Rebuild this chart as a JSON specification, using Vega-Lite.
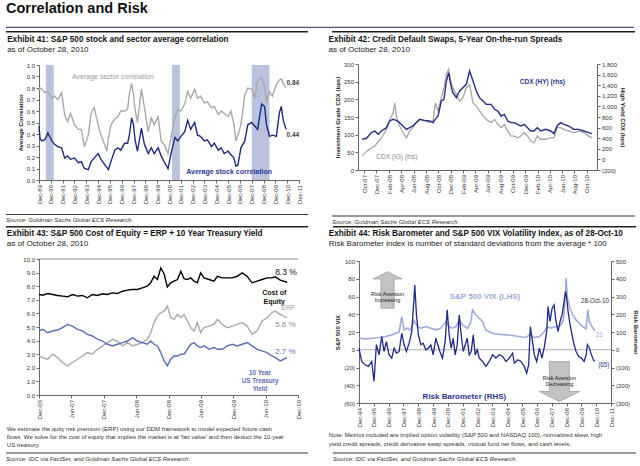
{
"$schema": "https://vega.github.io/schema/vega-lite/v6.json",
"padding": {"left": 5, "top": 0, "right": 2, "bottom": 0},
"background": "white",
"title": {"text": "Correlation and Risk", "fontSize": 14.5, "fontWeight": "bold", "color": "#111", "anchor": "start", "offset": 1},
"datasets": {
"rec": [{"s":"1990-07-01","e":"1991-03-01"},{"s":"2001-03-01","e":"2001-11-01"},{"s":"2007-12-01","e":"2009-06-01"}],
"p1": [
{"d":"1989-12-01","sec":0.78,"stk":0.47},{"d":"1990-01-01","sec":0.80,"stk":0.36},{"d":"1990-03-01","sec":0.79,"stk":0.34},{"d":"1990-06-01","sec":0.76,"stk":0.35},{"d":"1990-09-01","sec":0.77,"stk":0.41},{"d":"1991-01-01","sec":0.71,"stk":0.34},{"d":"1991-04-01","sec":0.73,"stk":0.31},{"d":"1991-07-01","sec":0.70,"stk":0.29},{"d":"1991-11-01","sec":0.76,"stk":0.28},
{"d":"1992-02-01","sec":0.57,"stk":0.19},{"d":"1992-05-01","sec":0.51,"stk":0.21},{"d":"1992-08-01","sec":0.58,"stk":0.18},{"d":"1992-12-01","sec":0.48,"stk":0.19},{"d":"1993-04-01","sec":0.44,"stk":0.15},{"d":"1993-07-01","sec":0.44,"stk":0.16},{"d":"1993-10-01","sec":0.29,"stk":0.10},{"d":"1994-02-01","sec":0.39,"stk":0.09},{"d":"1994-05-01","sec":0.58,"stk":0.16},{"d":"1994-08-01","sec":0.63,"stk":0.19},{"d":"1994-12-01","sec":0.48,"stk":0.23},
{"d":"1995-03-01","sec":0.39,"stk":0.18},{"d":"1995-07-01","sec":0.30,"stk":0.13},{"d":"1995-09-01","sec":0.25,"stk":0.11},{"d":"1995-10-15","sec":0.36,"stk":0.09},{"d":"1996-01-01","sec":0.48,"stk":0.16},{"d":"1996-05-01","sec":0.53,"stk":0.26},{"d":"1996-08-01","sec":0.55,"stk":0.28},{"d":"1996-11-01","sec":0.60,"stk":0.26},{"d":"1997-03-01","sec":0.60,"stk":0.32},{"d":"1997-06-01","sec":0.62,"stk":0.32},{"d":"1997-08-01","sec":0.76,"stk":0.40},{"d":"1997-10-01","sec":0.84,"stk":0.54},{"d":"1997-12-01","sec":0.74,"stk":0.48},
{"d":"1998-01-15","sec":0.62,"stk":0.35},{"d":"1998-04-01","sec":0.50,"stk":0.25},{"d":"1998-08-01","sec":0.79,"stk":0.45},{"d":"1998-11-01","sec":0.63,"stk":0.31},{"d":"1999-03-01","sec":0.42,"stk":0.23},{"d":"1999-06-01","sec":0.54,"stk":0.28},{"d":"1999-09-01","sec":0.48,"stk":0.23},{"d":"2000-01-01","sec":0.55,"stk":0.28},{"d":"2000-04-01","sec":0.34,"stk":0.21},{"d":"2000-07-01","sec":0.31,"stk":0.16},{"d":"2000-11-01","sec":0.23,"stk":0.10},
{"d":"2001-02-01","sec":0.37,"stk":0.23},{"d":"2001-06-01","sec":0.55,"stk":0.37},{"d":"2001-09-01","sec":0.61,"stk":0.34},{"d":"2001-12-01","sec":0.60,"stk":0.38},{"d":"2002-04-01","sec":0.66,"stk":0.42},{"d":"2002-07-01","sec":0.77,"stk":0.52},{"d":"2002-10-01","sec":0.71,"stk":0.44},{"d":"2003-02-01","sec":0.79,"stk":0.50},{"d":"2003-05-01","sec":0.71,"stk":0.39},{"d":"2003-08-01","sec":0.73,"stk":0.38},{"d":"2003-12-01","sec":0.67,"stk":0.34},
{"d":"2004-03-01","sec":0.68,"stk":0.35},{"d":"2004-07-01","sec":0.63,"stk":0.29},{"d":"2004-10-01","sec":0.64,"stk":0.32},{"d":"2005-02-01","sec":0.57,"stk":0.26},{"d":"2005-05-01","sec":0.60,"stk":0.28},{"d":"2005-08-01","sec":0.58,"stk":0.23},{"d":"2005-12-01","sec":0.55,"stk":0.25},{"d":"2006-03-01","sec":0.60,"stk":0.22},{"d":"2006-06-01","sec":0.48,"stk":0.19},{"d":"2006-08-01","sec":0.34,"stk":0.12},{"d":"2006-10-01","sec":0.39,"stk":0.13},
{"d":"2007-01-01","sec":0.48,"stk":0.28},{"d":"2007-05-01","sec":0.74,"stk":0.34},{"d":"2007-08-01","sec":0.80,"stk":0.48},{"d":"2007-12-01","sec":0.79,"stk":0.50},{"d":"2008-03-01","sec":0.71,"stk":0.47},{"d":"2008-06-01","sec":0.86,"stk":0.44},{"d":"2008-10-01","sec":0.89,"stk":0.66},{"d":"2009-01-01","sec":0.81,"stk":0.64},{"d":"2009-03-01","sec":0.68,"stk":0.48},{"d":"2009-06-01","sec":0.77,"stk":0.38},{"d":"2009-09-01","sec":0.73,"stk":0.39},
{"d":"2010-01-01","sec":0.83,"stk":0.38},{"d":"2010-04-01","sec":0.87,"stk":0.58},{"d":"2010-06-01","sec":0.88,"stk":0.64},{"d":"2010-08-01","sec":0.84,"stk":0.52},{"d":"2010-10-28","sec":0.80,"stk":0.44}
],
"p2": [
{"d":"2007-09-21","ig":40,"hy":379},{"d":"2007-10-13","ig":52,"hy":398},{"d":"2007-11-06","ig":63,"hy":505},{"d":"2007-11-23","ig":68,"hy":536},{"d":"2007-12-09","ig":80,"hy":473},{"d":"2007-12-25","ig":90,"hy":536},{"d":"2008-01-19","ig":115,"hy":599},{"d":"2008-02-04","ig":143,"hy":725},{"d":"2008-02-20","ig":160,"hy":756},{"d":"2008-02-29","ig":190,"hy":745},{"d":"2008-03-08","ig":150,"hy":737},{"d":"2008-03-24","ig":124,"hy":693},
{"d":"2008-04-09","ig":106,"hy":630},{"d":"2008-04-26","ig":91,"hy":567},{"d":"2008-05-12","ig":110,"hy":599},{"d":"2008-05-28","ig":120,"hy":630},{"d":"2008-06-13","ig":134,"hy":693},{"d":"2008-06-30","ig":143,"hy":756},{"d":"2008-07-25","ig":139,"hy":737},{"d":"2008-08-19","ig":134,"hy":725},{"d":"2008-09-04","ig":139,"hy":693},{"d":"2008-09-16","ig":190,"hy":760},{"d":"2008-09-29","ig":167,"hy":819},
{"d":"2008-10-15","ig":205,"hy":1102},{"d":"2008-10-28","ig":233,"hy":1133},{"d":"2008-11-09","ig":271,"hy":1479},{"d":"2008-11-20","ig":285,"hy":1637},{"d":"2008-11-30","ig":252,"hy":1416},{"d":"2008-12-11","ig":233,"hy":1259},{"d":"2008-12-28","ig":214,"hy":1165},{"d":"2009-01-13","ig":195,"hy":1291},{"d":"2009-01-29","ig":205,"hy":1354},{"d":"2009-02-15","ig":233,"hy":1416},{"d":"2009-03-03","ig":242,"hy":1668},
{"d":"2009-03-20","ig":190,"hy":1479},{"d":"2009-04-05","ig":181,"hy":1291},{"d":"2009-04-21","ig":167,"hy":1165},{"d":"2009-05-08","ig":153,"hy":1102},{"d":"2009-05-24","ig":143,"hy":1039},{"d":"2009-06-17","ig":134,"hy":1039},{"d":"2009-07-04","ig":143,"hy":945},{"d":"2009-07-20","ig":129,"hy":913},{"d":"2009-08-05","ig":120,"hy":819},{"d":"2009-08-21","ig":129,"hy":850},{"d":"2009-09-07","ig":110,"hy":725},
{"d":"2009-09-23","ig":96,"hy":693},{"d":"2009-10-09","ig":96,"hy":693},{"d":"2009-10-25","ig":91,"hy":662},{"d":"2009-11-10","ig":96,"hy":630},{"d":"2009-11-27","ig":106,"hy":662},{"d":"2009-12-13","ig":96,"hy":599},{"d":"2009-12-29","ig":82,"hy":536},{"d":"2010-01-14","ig":77,"hy":536},{"d":"2010-01-30","ig":96,"hy":599},{"d":"2010-02-16","ig":87,"hy":536},{"d":"2010-03-12","ig":87,"hy":567},
{"d":"2010-04-06","ig":91,"hy":536},{"d":"2010-04-22","ig":91,"hy":486},{"d":"2010-05-08","ig":120,"hy":630},{"d":"2010-05-24","ig":120,"hy":693},{"d":"2010-06-10","ig":115,"hy":662},{"d":"2010-07-04","ig":110,"hy":630},{"d":"2010-07-29","ig":106,"hy":567},{"d":"2010-08-22","ig":110,"hy":567},{"d":"2010-09-16","ig":106,"hy":536},{"d":"2010-10-10","ig":96,"hy":505},{"d":"2010-10-26","ig":91,"hy":486}
],
"p3": [
{"d":"2006-12-01","coe":7.39,"erp":2.87,"ty":4.71},{"d":"2006-12-22","coe":7.34,"erp":2.75,"ty":4.83},{"d":"2007-01-19","coe":7.46,"erp":2.63,"ty":4.58},{"d":"2007-02-16","coe":7.39,"erp":3.00,"ty":4.71},{"d":"2007-03-16","coe":7.32,"erp":2.75,"ty":4.78},{"d":"2007-04-13","coe":7.27,"erp":2.39,"ty":4.95},{"d":"2007-05-11","coe":7.22,"erp":2.14,"ty":5.19},{"d":"2007-06-08","coe":7.39,"erp":2.39,"ty":5.07},{"d":"2007-07-06","coe":7.27,"erp":2.63,"ty":4.83},{"d":"2007-08-03","coe":7.32,"erp":2.87,"ty":4.71},
{"d":"2007-08-31","coe":7.15,"erp":3.12,"ty":4.46},{"d":"2007-09-28","coe":7.39,"erp":3.00,"ty":4.34},{"d":"2007-10-27","coe":7.32,"erp":3.36,"ty":4.10},{"d":"2007-11-24","coe":7.44,"erp":3.61,"ty":3.97},{"d":"2007-12-22","coe":7.39,"erp":3.85,"ty":3.73},{"d":"2008-01-19","coe":7.51,"erp":4.10,"ty":3.61},{"d":"2008-02-16","coe":7.46,"erp":3.97,"ty":3.73},{"d":"2008-03-16","coe":7.63,"erp":3.61,"ty":3.85},{"d":"2008-04-13","coe":7.71,"erp":3.85,"ty":3.97},{"d":"2008-05-11","coe":7.76,"erp":3.61,"ty":4.22},
{"d":"2008-06-08","coe":7.76,"erp":3.73,"ty":3.97},{"d":"2008-07-06","coe":7.88,"erp":3.85,"ty":3.85},{"d":"2008-08-03","coe":8.00,"erp":4.10,"ty":3.73},{"d":"2008-08-22","coe":8.25,"erp":4.58,"ty":3.97},{"d":"2008-09-10","coe":8.73,"erp":5.32,"ty":3.73},{"d":"2008-09-29","coe":8.49,"erp":5.80,"ty":3.61},{"d":"2008-10-18","coe":9.34,"erp":6.05,"ty":3.12},{"d":"2008-11-06","coe":8.90,"erp":6.17,"ty":2.51},{"d":"2008-11-24","coe":7.95,"erp":6.54,"ty":2.14},{"d":"2008-12-13","coe":8.25,"erp":5.68,"ty":2.63},
{"d":"2009-01-01","coe":8.37,"erp":5.56,"ty":2.87},{"d":"2009-01-20","coe":8.49,"erp":5.93,"ty":2.87},{"d":"2009-02-08","coe":9.10,"erp":5.68,"ty":3.00},{"d":"2009-02-26","coe":8.55,"erp":5.93,"ty":3.00},{"d":"2009-03-17","coe":8.49,"erp":5.44,"ty":3.36},{"d":"2009-04-05","coe":8.61,"erp":4.95,"ty":3.73},{"d":"2009-04-24","coe":8.37,"erp":4.71,"ty":3.85},{"d":"2009-05-12","coe":8.25,"erp":5.32,"ty":3.61},{"d":"2009-05-31","coe":8.98,"erp":4.58,"ty":3.49},{"d":"2009-06-19","coe":8.61,"erp":4.95,"ty":3.61},
{"d":"2009-07-17","coe":8.49,"erp":5.07,"ty":3.36},{"d":"2009-08-14","coe":8.37,"erp":5.19,"ty":3.49},{"d":"2009-09-02","coe":8.73,"erp":5.56,"ty":3.36},{"d":"2009-09-30","coe":8.61,"erp":5.19,"ty":3.36},{"d":"2009-10-28","coe":8.61,"erp":4.95,"ty":3.61},{"d":"2009-11-25","coe":8.61,"erp":5.07,"ty":3.73},{"d":"2009-12-23","coe":8.73,"erp":5.19,"ty":3.61},{"d":"2010-01-20","coe":8.98,"erp":5.32,"ty":3.73},{"d":"2010-02-17","coe":8.73,"erp":5.07,"ty":3.85},{"d":"2010-03-17","coe":8.25,"erp":4.46,"ty":3.61},
{"d":"2010-04-14","coe":8.37,"erp":4.71,"ty":3.36},{"d":"2010-05-12","coe":8.49,"erp":5.44,"ty":3.24},{"d":"2010-06-09","coe":8.61,"erp":5.68,"ty":3.12},{"d":"2010-07-07","coe":8.61,"erp":6.05,"ty":2.87},{"d":"2010-07-26","coe":8.69,"erp":6.17,"ty":2.75},{"d":"2010-08-23","coe":8.44,"erp":5.93,"ty":2.51},{"d":"2010-09-30","coe":8.29,"erp":5.68,"ty":2.75}
],
"vix": [
{"d":"1994-12-01","v":13},{"d":"1995-05-15","v":12.3},{"d":"1995-10-26","v":13},{"d":"1996-04-08","v":13.8},{"d":"1996-09-19","v":14.9},{"d":"1997-03-03","v":16.8},{"d":"1997-05-24","v":18.6},{"d":"1997-08-15","v":19.8},{"d":"1997-10-19","v":37.4},{"d":"1997-12-16","v":22.4},{"d":"1998-03-08","v":24.3},{"d":"1998-05-30","v":22},{"d":"1998-08-20","v":33},{"d":"1998-11-10","v":26},
{"d":"1999-02-01","v":24.3},{"d":"1999-06-04","v":26.1},{"d":"1999-10-05","v":24.3},{"d":"2000-02-06","v":22.4},{"d":"2000-06-08","v":24.3},{"d":"2000-10-10","v":31.7},{"d":"2000-12-31","v":26.1},{"d":"2001-03-23","v":24.3},{"d":"2001-06-14","v":26},{"d":"2001-09-04","v":33.6},{"d":"2001-11-26","v":28},{"d":"2002-03-29","v":24},{"d":"2002-06-19","v":31.7},{"d":"2002-07-30","v":44.9},{"d":"2002-10-20","v":39.2},
{"d":"2003-01-11","v":35.5},{"d":"2003-04-03","v":31.7},{"d":"2003-06-24","v":22},{"d":"2003-12-06","v":18.6},{"d":"2004-05-18","v":17.5},{"d":"2004-10-30","v":16.8},{"d":"2005-04-12","v":16},{"d":"2005-09-23","v":14.9},{"d":"2006-03-08","v":13.8},{"d":"2006-05-29","v":16.8},{"d":"2006-09-29","v":13.8},{"d":"2007-01-31","v":14.9},{"d":"2007-06-03","v":20.5},{"d":"2007-08-25","v":26},{"d":"2007-11-15","v":24.3},
{"d":"2008-02-05","v":26},{"d":"2008-04-28","v":26},{"d":"2008-07-19","v":28},{"d":"2008-09-14","v":33.6},{"d":"2008-11-03","v":60},{"d":"2008-11-19","v":81},{"d":"2008-12-22","v":58},{"d":"2009-02-26","v":46.7},{"d":"2009-05-03","v":39.2},{"d":"2009-07-23","v":33.6},{"d":"2009-10-13","v":29.9},{"d":"2010-01-04","v":26.1},{"d":"2010-03-27","v":23.5},{"d":"2010-05-07","v":44.9},{"d":"2010-06-17","v":31.7},{"d":"2010-08-22","v":26.1},{"d":"2010-10-28","v":21}
],
"rb": [
{"d":"1994-12-01","r":9},{"d":"1995-02-05","r":-66},{"d":"1995-04-28","r":-85},{"d":"1995-07-19","r":-94},{"d":"1995-10-10","r":-66},{"d":"1995-12-06","r":-179},{"d":"1996-02-02","r":28},{"d":"1996-04-08","r":-29},{"d":"1996-06-13","r":74},{"d":"1996-08-09","r":-10},{"d":"1996-10-06","r":46},{"d":"1996-12-11","r":-29},{"d":"1997-02-15","r":-47},{"d":"1997-04-13","r":9},{"d":"1997-06-10","r":-19},{"d":"1997-08-15","r":-10},{"d":"1997-10-19","r":93},{"d":"1997-12-16","r":28},
{"d":"1998-02-12","r":-10},{"d":"1998-04-19","r":37},{"d":"1998-06-23","r":103},{"d":"1998-08-12","r":271},{"d":"1998-09-05","r":365},{"d":"1998-10-17","r":196},{"d":"1998-12-05","r":83},{"d":"1999-02-01","r":28},{"d":"1999-03-30","r":37},{"d":"1999-06-04","r":0},{"d":"1999-08-09","r":9},{"d":"1999-10-05","r":28},{"d":"1999-12-02","r":-29},{"d":"2000-02-06","r":65},{"d":"2000-03-26","r":28},{"d":"2000-05-15","r":-10},{"d":"2000-07-20","r":-47},{"d":"2000-09-23","r":46},{"d":"2000-11-12","r":225},{"d":"2000-12-31","r":84},
{"d":"2001-02-18","r":9},{"d":"2001-04-09","r":65},{"d":"2001-05-28","r":-29},{"d":"2001-07-17","r":28},{"d":"2001-09-04","r":196},{"d":"2001-10-23","r":84},{"d":"2001-12-12","r":-10},{"d":"2002-01-30","r":28},{"d":"2002-03-21","r":65},{"d":"2002-05-09","r":-29},{"d":"2002-06-27","r":-10},{"d":"2002-08-16","r":84},{"d":"2002-10-04","r":-29},{"d":"2002-11-22","r":0},{"d":"2003-01-11","r":-47},{"d":"2003-04-03","r":-66},{"d":"2003-06-24","r":-94},
{"d":"2003-09-14","r":-66},{"d":"2003-12-06","r":-29},{"d":"2004-02-26","r":-47},{"d":"2004-05-18","r":-29},{"d":"2004-08-09","r":-38},{"d":"2004-10-30","r":-66},{"d":"2005-01-20","r":-47},{"d":"2005-04-12","r":-19},{"d":"2005-05-24","r":-76},{"d":"2005-08-14","r":-57},{"d":"2005-11-04","r":-66},{"d":"2006-01-25","r":-94},{"d":"2006-03-24","r":-132},{"d":"2006-05-12","r":-85},{"d":"2006-06-23","r":131},{"d":"2006-08-03","r":65},{"d":"2006-09-29","r":-29},{"d":"2006-11-26","r":-66},
{"d":"2007-01-31","r":9},{"d":"2007-04-07","r":-47},{"d":"2007-06-03","r":18},{"d":"2007-07-31","r":103},{"d":"2007-09-02","r":243},{"d":"2007-10-21","r":159},{"d":"2007-12-10","r":233},{"d":"2008-01-28","r":252},{"d":"2008-03-17","r":159},{"d":"2008-05-06","r":103},{"d":"2008-06-24","r":159},{"d":"2008-08-12","r":196},{"d":"2008-10-01","r":271},{"d":"2008-11-03","r":327},{"d":"2008-12-06","r":290},
{"d":"2009-01-08","r":215},{"d":"2009-02-26","r":140},{"d":"2009-04-16","r":84},{"d":"2009-06-04","r":28},{"d":"2009-07-23","r":-10},{"d":"2009-09-27","r":-38},{"d":"2009-12-02","r":-47},{"d":"2010-02-06","r":-66},{"d":"2010-03-27","r":-29},{"d":"2010-04-29","r":28},{"d":"2010-06-17","r":9},{"d":"2010-08-06","r":-29},{"d":"2010-09-24","r":-57},{"d":"2010-10-28","r":-65}
]
},
"columns": 1,
"spacing": 1,
"concat": [
{"width": 595, "height": 13, "data": {"values": [{}]}, "mark": {"type": "rect", "color": "#4d5679"},
 "encoding": {"x": {"datum": -0.0555, "type": "quantitative", "scale": {"domain": [0, 1]}, "axis": null}, "x2": {"datum": 1}, "y": {"datum": 3.2, "type": "quantitative", "scale": {"domain": [0, 13]}, "axis": null}, "y2": {"datum": 2}}},
{"columns": 2, "spacing": 20, "concat": [
{"columns": 1, "spacing": 2, "concat": [
 {"width": 269, "height": 1.4, "data": {"values": [{}]}, "mark": {"type": "rect", "color": "#222"},
  "encoding": {"x": {"datum": -0.1227, "type": "quantitative", "scale": {"domain": [0, 1]}, "axis": null}, "x2": {"datum": 1}, "y": {"datum": 0, "type": "quantitative", "scale": {"domain": [0, 1]}, "axis": null}, "y2": {"datum": 1}}},
 {
 "width": 260, "height": 115,
 "title": {"text": "Exhibit 41: S&P 500 stock and sector average correlation", "subtitle": "as of October 28, 2010", "offset": 7, "dx": -10},
 "layer": [
 {"data": {"name": "rec"}, "mark": {"type": "rect", "color": "#b9c3e0"},
  "encoding": {"x": {"field": "s", "type": "temporal", "title": null,
    "scale": {"type": "utc", "domain": [{"year":1989,"month":12,"date":1,"utc":true},{"year":2011,"month":12,"date":1,"utc":true}]},
    "axis": {"format": "%b-%y", "labelAngle": -90, "title": null, "tickCount": 100, "labelFlush": false, "values": [
     {"year":1989,"month":12,"date":1,"utc":true},{"year":1990,"month":12,"date":1,"utc":true},{"year":1991,"month":12,"date":1,"utc":true},{"year":1992,"month":12,"date":1,"utc":true},{"year":1993,"month":12,"date":1,"utc":true},{"year":1994,"month":12,"date":1,"utc":true},{"year":1995,"month":12,"date":1,"utc":true},{"year":1996,"month":12,"date":1,"utc":true},{"year":1997,"month":12,"date":1,"utc":true},{"year":1998,"month":12,"date":1,"utc":true},{"year":1999,"month":12,"date":1,"utc":true},{"year":2000,"month":12,"date":1,"utc":true},
     {"year":2001,"month":12,"date":1,"utc":true},{"year":2002,"month":12,"date":1,"utc":true},{"year":2003,"month":12,"date":1,"utc":true},{"year":2004,"month":12,"date":1,"utc":true},{"year":2005,"month":12,"date":1,"utc":true},{"year":2006,"month":12,"date":1,"utc":true},{"year":2007,"month":12,"date":1,"utc":true},{"year":2008,"month":12,"date":1,"utc":true},{"year":2009,"month":12,"date":1,"utc":true},{"year":2010,"month":12,"date":1,"utc":true},{"year":2011,"month":12,"date":1,"utc":true}]}},
   "x2": {"field": "e"}}},
 {"data": {"name": "p1"}, "mark": {"type": "line", "color": "#a9a9a9", "strokeWidth": 1.4},
  "encoding": {"x": {"field": "d", "type": "temporal", "title": null},
   "y": {"field": "sec", "type": "quantitative", "scale": {"domain": [0, 1]}, "axis": {"title": "Average Correlation", "tickCount": 100, "values": [0,0.1,0.2,0.3,0.4,0.5,0.6,0.7,0.8,0.9,1.0], "format": ".1f"}}}},
 {"data": {"name": "p1"}, "mark": {"type": "line", "color": "#1f2a7c", "strokeWidth": 1.4},
  "encoding": {"x": {"field": "d", "type": "temporal", "title": null},
   "y": {"field": "stk", "type": "quantitative", "axis": {"title": "Average Correlation", "tickCount": 100}}}},
 {"data": {"values": [{}]}, "mark": {"type": "text", "text": "Average sector correlation", "color": "#9a9a9a", "fontSize": 7},
  "encoding": {"x": {"datum": {"year":1996,"month":3,"date":1,"utc":true}, "type": "temporal"}, "y": {"datum": 0.9, "type": "quantitative"}}},
 {"data": {"values": [{}]}, "mark": {"type": "text", "text": "Average stock correlation", "color": "#2a3590", "fontSize": 7, "fontWeight": "bold"},
  "encoding": {"x": {"datum": {"year":2006,"month":1,"date":1,"utc":true}, "type": "temporal"}, "y": {"datum": 0.07, "type": "quantitative"}}},
 {"data": {"values": [{}]}, "mark": {"type": "text", "text": "0.84", "color": "#444", "fontSize": 6.5, "fontWeight": "bold", "align": "left"},
  "encoding": {"x": {"datum": {"year":2010,"month":11,"date":10,"utc":true}, "type": "temporal"}, "y": {"datum": 0.84, "type": "quantitative"}}},
 {"data": {"values": [{}]}, "mark": {"type": "text", "text": "0.44", "color": "#444", "fontSize": 6.5, "fontWeight": "bold", "align": "left"},
  "encoding": {"x": {"datum": {"year":2010,"month":11,"date":10,"utc":true}, "type": "temporal"}, "y": {"datum": 0.39, "type": "quantitative"}}}
 ]
 },
 {"width": 269, "height": 9, "data": {"values": [{}]}, "mark": {"type": "rect", "color": "#333"},
  "encoding": {"x": {"datum": -0.1227, "type": "quantitative", "scale": {"domain": [0, 1]}, "axis": null}, "x2": {"datum": 1}, "y": {"datum": 0, "type": "quantitative", "scale": {"domain": [0, 9]}, "axis": null}, "y2": {"datum": 0.9}},
  "title": {"text": "Source: Goldman Sachs Global ECS Research.", "orient": "bottom", "anchor": "start", "fontSize": 6, "fontStyle": "italic", "fontWeight": "normal", "color": "#333", "offset": 2}}
]},
{"columns": 1, "spacing": 2, "concat": [
 {"width": 277, "height": 1.4, "data": {"values": [{}]}, "mark": {"type": "rect", "color": "#222"},
  "encoding": {"x": {"datum": -0.0939, "type": "quantitative", "scale": {"domain": [0, 1]}, "axis": null}, "x2": {"datum": 1}, "y": {"datum": 0, "type": "quantitative", "scale": {"domain": [0, 1]}, "axis": null}, "y2": {"datum": 1}}},
 {
 "width": 239, "height": 106,
 "title": {"text": "Exhibit 42: Credit Default Swaps, 5-Year On-the-run Spreads", "subtitle": "as of October 28, 2010", "offset": 6, "dx": -6},
 "resolve": {"scale": {"y": "independent"}},
 "layer": [
 {"layer": [
  {"data": {"name": "p2"}, "mark": {"type": "line", "color": "#a6a6a6", "strokeWidth": 1.3},
   "encoding": {"x": {"field": "d", "type": "temporal", "title": null,
     "scale": {"type": "utc", "domain": [{"year":2007,"month":9,"date":1,"utc":true},{"year":2010,"month":11,"date":20,"utc":true}]},
     "axis": {"format": "%b-%y", "labelAngle": -90, "title": null, "tickCount": 100, "labelFlush": false, "values": [
      {"year":2007,"month":10,"date":1,"utc":true},{"year":2007,"month":12,"date":1,"utc":true},{"year":2008,"month":2,"date":1,"utc":true},{"year":2008,"month":4,"date":1,"utc":true},{"year":2008,"month":6,"date":1,"utc":true},{"year":2008,"month":8,"date":1,"utc":true},{"year":2008,"month":10,"date":1,"utc":true},{"year":2008,"month":12,"date":1,"utc":true},{"year":2009,"month":2,"date":1,"utc":true},{"year":2009,"month":4,"date":1,"utc":true},
      {"year":2009,"month":6,"date":1,"utc":true},{"year":2009,"month":8,"date":1,"utc":true},{"year":2009,"month":10,"date":1,"utc":true},{"year":2009,"month":12,"date":1,"utc":true},{"year":2010,"month":2,"date":1,"utc":true},{"year":2010,"month":4,"date":1,"utc":true},{"year":2010,"month":6,"date":1,"utc":true},{"year":2010,"month":8,"date":1,"utc":true},{"year":2010,"month":10,"date":1,"utc":true}]}},
    "y": {"field": "ig", "type": "quantitative", "scale": {"domain": [0, 300]}, "axis": {"title": "Investment Grade CDX (bps)", "tickCount": 100, "values": [0,50,100,150,200,250,300]}}}},
  {"data": {"values": [{}]}, "mark": {"type": "text", "text": "CDX (HY) (rhs)", "color": "#2a3590", "fontSize": 6.5, "fontWeight": "bold"},
   "encoding": {"x": {"datum": {"year":2010,"month":2,"date":24,"utc":true}, "type": "temporal"}, "y": {"datum": 250, "type": "quantitative"}}},
  {"data": {"values": [{}]}, "mark": {"type": "text", "text": "CDX (IG) (lhs)", "color": "#888", "fontSize": 6.5},
   "encoding": {"x": {"datum": {"year":2008,"month":3,"date":10,"utc":true}, "type": "temporal"}, "y": {"datum": 37, "type": "quantitative"}}}
 ]},
 {"layer": [
  {"data": {"name": "p2"}, "mark": {"type": "line", "color": "#262d82", "strokeWidth": 1.4},
   "encoding": {"x": {"field": "d", "type": "temporal", "title": null},
    "y": {"field": "hy", "type": "quantitative", "scale": {"domain": [-200, 1800]}, "axis": {"orient": "right", "title": "High Yield CDX (bps)", "tickCount": 100, "values": [-200,0,200,400,600,800,1000,1200,1400,1600,1800], "labelExpr": "datum.value < 0 ? '(' + format(-datum.value, ',') + ')' : format(datum.value, ',')"}}}}
 ]}
 ]
 },
 {"width": 277, "height": 20.5, "data": {"values": [{}]}, "mark": {"type": "rect", "color": "#333"},
  "encoding": {"x": {"datum": -0.0939, "type": "quantitative", "scale": {"domain": [0, 1]}, "axis": null}, "x2": {"datum": 1}, "y": {"datum": 0, "type": "quantitative", "scale": {"domain": [0, 20.5]}, "axis": null}, "y2": {"datum": 0.9}},
  "title": {"text": "Source: Goldman Sachs Global ECS Research.", "orient": "bottom", "anchor": "start", "fontSize": 6, "fontStyle": "italic", "fontWeight": "normal", "color": "#333", "offset": 2}}
]}
]},
{"columns": 2, "spacing": 20, "concat": [
{"columns": 1, "spacing": 1, "concat": [
 {"width": 269, "height": 1.4, "data": {"values": [{}]}, "mark": {"type": "rect", "color": "#222"},
  "encoding": {"x": {"datum": -0.1227, "type": "quantitative", "scale": {"domain": [0, 1]}, "axis": null}, "x2": {"datum": 1}, "y": {"datum": 0, "type": "quantitative", "scale": {"domain": [0, 1]}, "axis": null}, "y2": {"datum": 1}}},
 {
 "columns": 1,
 "title": {"text": ["We estimate the quity risk premium (ERP) using our DDM framework to model expected future cash", "flows. We solve for the cost of equity that implies the market is at 'fair value' and then deduct the 10-year", "US treasury."], "orient": "bottom", "anchor": "start", "fontSize": 6, "fontWeight": "normal", "color": "#333", "lineHeight": 8.2, "offset": 7},
 "concat": [{
 "width": 259, "height": 136,
 "title": {"text": "Exhibit 43: S&P 500 Cost of Equity = ERP + 10 Year Treasury Yield", "subtitle": "as of October 28, 2010", "offset": 7, "dx": -16},
 "layer": [
 {"data": {"values": [{}]}, "mark": {"type": "rule", "color": "#777", "strokeWidth": 0.8},
  "encoding": {"y": {"datum": 10, "type": "quantitative"}}},
 {"data": {"name": "p3"}, "mark": {"type": "line", "color": "#a9a9a9", "strokeWidth": 1.4},
  "encoding": {"x": {"field": "d", "type": "temporal", "title": null,
    "scale": {"type": "utc", "domain": [{"year":2006,"month":12,"date":1,"utc":true},{"year":2010,"month":12,"date":1,"utc":true}]},
    "axis": {"format": "%b-%y", "labelAngle": -90, "title": null, "tickCount": 100, "labelFlush": false, "values": [
     {"year":2006,"month":12,"date":1,"utc":true},{"year":2007,"month":6,"date":1,"utc":true},{"year":2007,"month":12,"date":1,"utc":true},{"year":2008,"month":6,"date":1,"utc":true},{"year":2008,"month":12,"date":1,"utc":true},{"year":2009,"month":6,"date":1,"utc":true},{"year":2009,"month":12,"date":1,"utc":true},{"year":2010,"month":6,"date":1,"utc":true},{"year":2010,"month":12,"date":1,"utc":true}]}},
   "y": {"field": "erp", "type": "quantitative", "scale": {"domain": [0, 10]}, "axis": {"title": null, "tickCount": 100, "values": [0,1,2,3,4,5,6,7,8,9,10], "format": ".1f"}}}},
 {"data": {"name": "p3"}, "mark": {"type": "line", "color": "#5a6cb3", "strokeWidth": 1.4},
  "encoding": {"x": {"field": "d", "type": "temporal", "title": null}, "y": {"field": "ty", "type": "quantitative", "axis": {"title": null, "tickCount": 100}}}},
 {"data": {"name": "p3"}, "mark": {"type": "line", "color": "#000", "strokeWidth": 1.4},
  "encoding": {"x": {"field": "d", "type": "temporal", "title": null}, "y": {"field": "coe", "type": "quantitative", "axis": {"title": null, "tickCount": 100}}}},
 {"data": {"values": [{}]}, "mark": {"type": "text", "text": "8.3 %", "color": "#111", "fontSize": 8.5, "align": "left"},
  "encoding": {"x": {"datum": {"year":2010,"month":7,"date":25,"utc":true}, "type": "temporal"}, "y": {"datum": 9.05, "type": "quantitative"}}},
 {"data": {"values": [{}]}, "mark": {"type": "text", "text": ["Cost of", "Equity"], "color": "#111", "fontSize": 7, "fontWeight": "bold", "lineHeight": 9},
  "encoding": {"x": {"datum": {"year":2010,"month":7,"date":20,"utc":true}, "type": "temporal"}, "y": {"datum": 7.5, "type": "quantitative"}}},
 {"data": {"values": [{}]}, "mark": {"type": "text", "text": "ERP", "color": "#a0a0a0", "fontSize": 6.5},
  "encoding": {"x": {"datum": {"year":2010,"month":10,"date":7,"utc":true}, "type": "temporal"}, "y": {"datum": 6.4, "type": "quantitative"}}},
 {"data": {"values": [{}]}, "mark": {"type": "text", "text": "5.6 %", "color": "#8a8a8a", "fontSize": 8},
  "encoding": {"x": {"datum": {"year":2010,"month":9,"date":21,"utc":true}, "type": "temporal"}, "y": {"datum": 5.15, "type": "quantitative"}}},
 {"data": {"values": [{}]}, "mark": {"type": "text", "text": "2.7 %", "color": "#5a6cb3", "fontSize": 8},
  "encoding": {"x": {"datum": {"year":2010,"month":9,"date":21,"utc":true}, "type": "temporal"}, "y": {"datum": 3.17, "type": "quantitative"}}},
 {"data": {"values": [{}]}, "mark": {"type": "text", "text": ["10 Year", "US Treasury", "Yield"], "color": "#5a6cb3", "fontSize": 6.3, "fontWeight": "bold", "lineHeight": 8},
  "encoding": {"x": {"datum": {"year":2010,"month":5,"date":1,"utc":true}, "type": "temporal"}, "y": {"datum": 1.61, "type": "quantitative"}}}
 ]
 }]
 },
 {"width": 269, "height": 3.5, "data": {"values": [{}]}, "mark": {"type": "rect", "color": "#333"},
  "encoding": {"x": {"datum": -0.1227, "type": "quantitative", "scale": {"domain": [0, 1]}, "axis": null}, "x2": {"datum": 1}, "y": {"datum": 0, "type": "quantitative", "scale": {"domain": [0, 3.5]}, "axis": null}, "y2": {"datum": 0.9}},
  "title": {"text": "Source: IDC via FactSet, and Goldman Sachs Global ECS Research.", "orient": "bottom", "anchor": "start", "fontSize": 6, "fontStyle": "italic", "fontWeight": "normal", "color": "#333", "offset": 2}}
]},
{"columns": 1, "spacing": 1, "concat": [
 {"width": 277, "height": 1.4, "data": {"values": [{}]}, "mark": {"type": "rect", "color": "#222"},
  "encoding": {"x": {"datum": -0.0939, "type": "quantitative", "scale": {"domain": [0, 1]}, "axis": null}, "x2": {"datum": 1}, "y": {"datum": 0, "type": "quantitative", "scale": {"domain": [0, 1]}, "axis": null}, "y2": {"datum": 1}}},
 {
 "columns": 1,
 "title": {"text": ["Note: Metrics included are implied option volatility (S&P 500 and NASDAQ 100), normalized skew, high", "yield credit spreads, credit derivative swap spreads, mutual fund net flows, and cash levels."], "orient": "bottom", "anchor": "start", "fontSize": 6, "fontWeight": "normal", "color": "#333", "lineHeight": 9, "offset": 5},
 "concat": [{
 "width": 252, "height": 142,
 "title": {"text": "Exhibit 44: Risk Barometer and S&P 500 VIX Volatility Index, as of 28-Oct-10", "subtitle": "Risk Barometer index is number of standard deviations from the average * 100", "offset": 9, "dx": -6},
 "resolve": {"scale": {"y": "independent"}},
 "layer": [
 {"layer": [
  {"data": {"values": [{}]}, "mark": {"type": "rule", "color": "#9a9a9a", "strokeWidth": 0.8},
   "encoding": {"y": {"datum": 0, "type": "quantitative"}}},
  {"data": {"name": "vix"}, "mark": {"type": "line", "color": "#9eaad8", "strokeWidth": 1.6},
   "encoding": {"x": {"field": "d", "type": "temporal", "title": null,
     "scale": {"type": "utc", "domain": [{"year":1994,"month":12,"date":1,"utc":true},{"year":2011,"month":12,"date":1,"utc":true}]},
     "axis": {"format": "%b-%y", "labelAngle": -90, "title": null, "tickCount": 100, "labelFlush": false, "values": [
      {"year":1994,"month":12,"date":1,"utc":true},{"year":1995,"month":12,"date":1,"utc":true},{"year":1996,"month":12,"date":1,"utc":true},{"year":1997,"month":12,"date":1,"utc":true},{"year":1998,"month":12,"date":1,"utc":true},{"year":1999,"month":12,"date":1,"utc":true},{"year":2000,"month":12,"date":1,"utc":true},{"year":2001,"month":12,"date":1,"utc":true},{"year":2002,"month":12,"date":1,"utc":true},
      {"year":2003,"month":12,"date":1,"utc":true},{"year":2004,"month":12,"date":1,"utc":true},{"year":2005,"month":12,"date":1,"utc":true},{"year":2006,"month":12,"date":1,"utc":true},{"year":2007,"month":12,"date":1,"utc":true},{"year":2008,"month":12,"date":1,"utc":true},{"year":2009,"month":12,"date":1,"utc":true},{"year":2010,"month":12,"date":1,"utc":true},{"year":2011,"month":12,"date":1,"utc":true}]}},
    "y": {"field": "v", "type": "quantitative", "scale": {"domain": [-60, 100]}, "axis": {"title": "S&P 500 VIX", "tickCount": 100, "values": [-60,-40,-20,0,20,40,60,80,100], "labelExpr": "datum.value < 0 ? '(' + format(-datum.value, ',') + ')' : format(datum.value, ',')"}}}},
  {"data": {"values": [{}]}, "mark": {"type": "point", "shape": "M0,-1L0.79,-0.6L0.36,-0.6L0.36,1L-0.36,1L-0.36,-0.6L-0.79,-0.6Z", "filled": true, "fill": "#c3c3c3", "stroke": "#8a8a8a", "strokeWidth": 0.6, "size": 1340, "opacity": 1},
   "encoding": {"x": {"datum": {"year":1996,"month":11,"date":3,"utc":true}, "type": "temporal"}, "y": {"datum": 67.4, "type": "quantitative"}}},
  {"data": {"values": [{}]}, "mark": {"type": "point", "shape": "M0,1L1,0.5L0.5,0.5L0.5,-1L-0.5,-1L-0.5,0.5L-1,0.5Z", "filled": true, "fill": "#c3c3c3", "stroke": "#8a8a8a", "strokeWidth": 0.6, "size": 1600, "opacity": 1},
   "encoding": {"x": {"datum": {"year":2008,"month":6,"date":6,"utc":true}, "type": "temporal"}, "y": {"datum": -35.8, "type": "quantitative"}}},
  {"data": {"values": [{}]}, "mark": {"type": "text", "text": ["Risk Aversion", "Increasing"], "color": "#222", "fontSize": 5.5, "lineHeight": 6.5},
   "encoding": {"x": {"datum": {"year":1996,"month":11,"date":3,"utc":true}, "type": "temporal"}, "y": {"datum": 62.9, "type": "quantitative"}}},
  {"data": {"values": [{}]}, "mark": {"type": "text", "text": ["Risk Aversion", "Decreasing"], "color": "#222", "fontSize": 5.5, "lineHeight": 6.5},
   "encoding": {"x": {"datum": {"year":2008,"month":6,"date":6,"utc":true}, "type": "temporal"}, "y": {"datum": -31.6, "type": "quantitative"}}},
  {"data": {"values": [{}]}, "mark": {"type": "text", "text": "S&P 500 VIX (LHS)", "color": "#9eaad8", "fontSize": 8, "fontWeight": "bold"},
   "encoding": {"x": {"datum": {"year":2003,"month":6,"date":1,"utc":true}, "type": "temporal"}, "y": {"datum": 59.5, "type": "quantitative"}}},
  {"data": {"values": [{}]}, "mark": {"type": "text", "text": "Risk Barometer (RHS)", "color": "#2a3590", "fontSize": 8, "fontWeight": "bold"},
   "encoding": {"x": {"datum": {"year":2002,"month":1,"date":10,"utc":true}, "type": "temporal"}, "y": {"datum": -53.4, "type": "quantitative"}}},
  {"data": {"values": [{}]}, "mark": {"type": "text", "text": "28-Oct-10", "color": "#333", "fontSize": 6.3},
   "encoding": {"x": {"datum": {"year":2010,"month":11,"date":1,"utc":true}, "type": "temporal"}, "y": {"datum": 55, "type": "quantitative"}}},
  {"data": {"values": [{}]}, "mark": {"type": "text", "text": "21", "color": "#9eaad8", "fontSize": 6.3, "align": "left"},
   "encoding": {"x": {"datum": {"year":2010,"month":11,"date":20,"utc":true}, "type": "temporal"}, "y": {"datum": 16.8, "type": "quantitative"}}},
  {"data": {"values": [{}]}, "mark": {"type": "text", "text": "(65)", "color": "#2a3590", "fontSize": 6.3, "align": "left"},
   "encoding": {"x": {"datum": {"year":2011,"month":1,"date":20,"utc":true}, "type": "temporal"}, "y": {"datum": -17, "type": "quantitative"}}}
 ]},
 {"layer": [
  {"data": {"name": "rb"}, "mark": {"type": "line", "color": "#1f2a85", "strokeWidth": 1.3},
   "encoding": {"x": {"field": "d", "type": "temporal", "title": null},
    "y": {"field": "r", "type": "quantitative", "scale": {"domain": [-300, 500]}, "axis": {"orient": "right", "title": "Risk Barometer", "tickCount": 100, "values": [-300,-200,-100,0,100,200,300,400,500], "labelExpr": "datum.value < 0 ? '(' + format(-datum.value, ',') + ')' : format(datum.value, ',')"}}}}
 ]}
 ]
 }]
 },
 {"width": 277, "height": 5.5, "data": {"values": [{}]}, "mark": {"type": "rect", "color": "#333"},
  "encoding": {"x": {"datum": -0.0939, "type": "quantitative", "scale": {"domain": [0, 1]}, "axis": null}, "x2": {"datum": 1}, "y": {"datum": 0, "type": "quantitative", "scale": {"domain": [0, 5.5]}, "axis": null}, "y2": {"datum": 0.9}},
  "title": {"text": "Source: IDC via FactSet, and Goldman Sachs Global ECS Research.", "orient": "bottom", "anchor": "start", "fontSize": 6, "fontStyle": "italic", "fontWeight": "normal", "color": "#333", "offset": 2}}
]}
]}
],
"config": {
 "font": "Liberation Sans",
 "view": {"stroke": null},
 "axis": {"labelFontSize": 6, "labelColor": "#333", "titleFontSize": 6, "titleColor": "#222", "titleFontWeight": "bold", "tickSize": 3, "tickColor": "#666", "domainColor": "#666", "grid": false, "labelPadding": 1.5, "titlePadding": 3, "labelOverlap": false, "labelFlush": false, "labelFont": "Liberation Sans", "titleFont": "Liberation Sans"},
 "title": {"anchor": "start", "fontSize": 8.2, "fontWeight": "bold", "color": "#111", "subtitleFontSize": 8, "subtitleColor": "#222", "subtitlePadding": 1.5, "font": "Liberation Sans", "subtitleFont": "Liberation Sans"}
}
}
